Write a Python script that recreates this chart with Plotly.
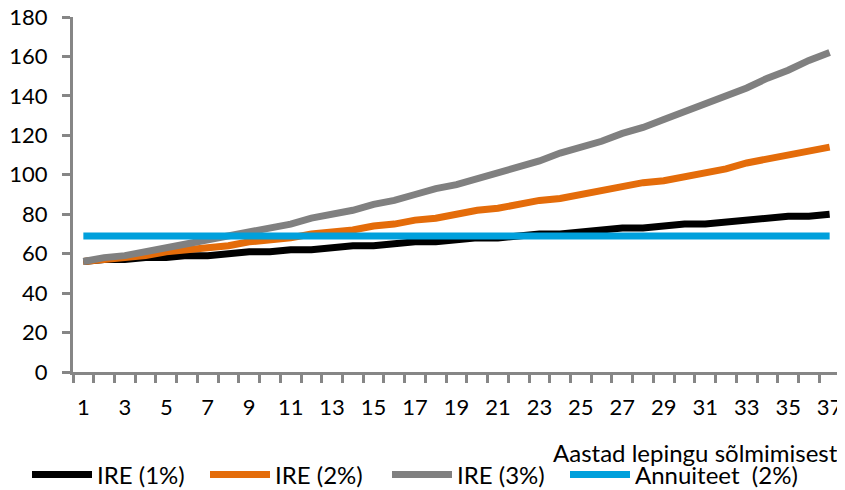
import plotly.graph_objects as go

years = list(range(1, 38))
ire1 = [56, 57, 57, 58, 58, 59, 59, 60, 61, 61, 62, 62, 63, 64, 64, 65, 66, 66, 67, 68,
        68, 69, 70, 70, 71, 72, 73, 73, 74, 75, 75, 76, 77, 78, 79, 79, 80]
ire2 = [56, 57, 58, 59, 61, 62, 63, 64, 66, 67, 68, 70, 71, 72, 74, 75, 77, 78, 80, 82,
        83, 85, 87, 88, 90, 92, 94, 96, 97, 99, 101, 103, 106, 108, 110, 112, 114]
ire3 = [56, 58, 59, 61, 63, 65, 67, 69, 71, 73, 75, 78, 80, 82, 85, 87, 90, 93, 95, 98,
        101, 104, 107, 111, 114, 117, 121, 124, 128, 132, 136, 140, 144, 149, 153, 158, 162]
annuity = [69] * 37

series = [
    ("IRE (1%)", ire1, "#000000"),
    ("IRE (2%)", ire2, "#E46C0A"),
    ("IRE (3%)", ire3, "#808080"),
    ("Annuiteet  (2%)", annuity, "#00A0DC"),
]

# page body has an 8px default margin: figure is sized/positioned to compensate
W, H = 837, 482
legend_x_px = [19, 197, 379, 557]
legend_y_px = 467

FONT = "Lato"
fig = go.Figure()
legend_ids = ["legend", "legend2", "legend3", "legend4"]
for (name, vals, col), lid in zip(series, legend_ids):
    fig.add_trace(go.Scatter(x=years, y=vals, mode="lines", name=name, legend=lid,
                             line=dict(color=col, width=7)))

axis_col = "#868686"
layout_legends = {}
for lid, px in zip(legend_ids, legend_x_px):
    layout_legends[lid] = dict(orientation="h", xref="container", yref="container",
                               x=px / W, y=1 - legend_y_px / H, xanchor="left", yanchor="middle",
                               font=dict(family=FONT, size=24), itemwidth=60,
                               bgcolor="rgba(0,0,0,0)")

fig.update_layout(
    width=W, height=H,
    margin=dict(l=65, r=5, t=9, b=118),
    paper_bgcolor="white", plot_bgcolor="white",
    font=dict(family=FONT, size=22, color="#000000"),
    showlegend=True,
    xaxis=dict(range=[0.5, 37.5], tickmode="array", tickvals=list(range(1, 38, 2)),
               ticks="", showgrid=False, zeroline=False, automargin=False,
               showline=True, linecolor=axis_col, linewidth=3,
               ticklabelstandoff=14, ticklabeloverflow="allow",
               minor=dict(ticks="outside", tick0=0.5, dtick=1, ticklen=8,
                          tickcolor=axis_col, tickwidth=3, showgrid=False)),
    yaxis=dict(range=[0, 180], dtick=20, ticks="outside", ticklen=8,
               tickcolor=axis_col, tickwidth=3, showgrid=False, zeroline=False,
               automargin=False, ticklabeloverflow="allow",
               showline=True, linecolor=axis_col, linewidth=3,
               ticklabelstandoff=10),
    annotations=[dict(text="Aastad lepingu sõlmimisest", xref="paper", yref="paper",
                      x=1.0, y=(364 - 444) / 355, xanchor="right", yanchor="middle",
                      showarrow=False, font=dict(family=FONT, size=24))],
    **layout_legends,
)

fig.write_html("out.html")
